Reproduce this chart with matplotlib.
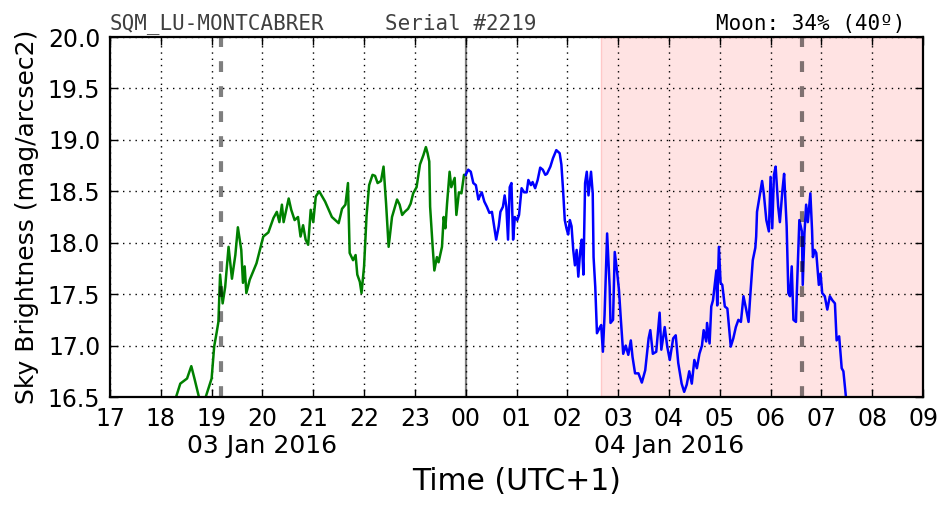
import matplotlib
matplotlib.use("Agg")
import matplotlib.pyplot as plt
import matplotlib.dates as mdates
import matplotlib.transforms as mtransforms
import pandas as pd

# ---- data (minutes after 2016-01-03 17:00, sky brightness mag/arcsec2) ----
start = pd.Timestamp("2016-01-03 17:00")

green_min = [74, 78, 83, 91, 96, 100, 105, 109, 113, 120, 123, 126, 128, 130, 133,
             136, 140, 144, 148, 151, 155, 157, 159, 161, 165, 169, 173, 177, 181,
             187, 193, 197, 200, 203, 205, 211, 214, 218, 222, 225, 228, 231, 234,
             237, 240, 243, 247, 254, 262, 266, 270, 274, 278, 281, 283, 287, 290,
             292, 295, 297, 300, 303, 306, 310, 313, 316, 320, 323, 326, 329, 333,
             339, 342, 345, 348, 352, 355, 358, 362, 366, 370, 373, 375, 377, 378,
             381, 383, 386, 388, 392, 394, 396, 398, 401, 403, 407, 409, 412, 415,
             418, 420]
green_val = [16.40, 16.50, 16.63, 16.68, 16.80, 16.67, 16.50, 16.40, 16.50, 16.68,
             16.99, 17.13, 17.23, 17.69, 17.41, 17.57, 17.96, 17.65, 17.88, 18.15,
             17.93, 17.61, 17.77, 17.51, 17.64, 17.72, 17.80, 17.93, 18.06, 18.10,
             18.24, 18.30, 18.20, 18.37, 18.20, 18.43, 18.32, 18.22, 18.25, 18.06,
             18.17, 18.03, 17.98, 18.32, 18.20, 18.45, 18.50, 18.40, 18.25, 18.22,
             18.19, 18.33, 18.37, 18.58, 17.90, 17.83, 17.88, 17.69, 17.62, 17.51,
             17.77, 18.27, 18.56, 18.66, 18.65, 18.58, 18.60, 18.74, 18.38, 17.96,
             18.25, 18.42, 18.37, 18.27, 18.30, 18.33, 18.38, 18.48, 18.54, 18.76,
             18.85, 18.93, 18.87, 18.79, 18.35, 17.96, 17.73, 17.86, 17.81, 17.96,
             18.25, 18.14, 18.38, 18.69, 18.54, 18.63, 18.27, 18.49, 18.48, 18.66,
             18.66]

blue_min = [420, 423, 426, 429, 432, 435, 437, 439, 442, 445, 448, 451, 453, 456,
            459, 461, 464, 466, 468, 470, 472, 474, 476, 478, 481, 483, 486, 489,
            492, 494, 497, 499, 502, 505, 508, 511, 514, 516, 520, 523, 527, 531,
            533, 535, 537, 539, 541, 543, 545, 547, 549, 551, 553, 555, 557, 559,
            561, 563, 565, 568, 570, 571, 573, 575, 578, 580, 582, 584, 587, 590,
            591, 594, 596, 599, 601, 603, 606, 609, 612, 615, 617, 620, 624, 628,
            632, 636, 638, 641, 645, 649, 651, 655, 658, 661, 665, 668, 671, 675,
            678, 681, 684, 687, 690, 693, 696, 699, 701, 704, 705, 708, 710, 712,
            716, 717, 719, 721, 723, 726, 729, 733, 736, 739, 742, 745, 748, 751,
            754, 756, 759, 762, 763, 764, 767, 770, 772, 775, 778, 780, 782, 784,
            786, 789, 791, 794, 796, 799, 801, 803, 805, 807, 810, 811, 814, 817,
            818, 820, 822, 824, 827, 829, 830, 832, 834, 837, 839, 841, 844, 847,
            850, 853, 856, 858, 861, 864, 866, 869, 871]
blue_val = [18.66, 18.71, 18.69, 18.58, 18.56, 18.42, 18.46, 18.49, 18.40, 18.35,
            18.29, 18.30, 18.19, 18.03, 18.16, 18.30, 18.35, 18.46, 18.35, 18.03,
            18.54, 18.58, 18.03, 18.25, 18.22, 18.27, 18.53, 18.49, 18.49, 18.61,
            18.56, 18.59, 18.53, 18.61, 18.73, 18.71, 18.66, 18.67, 18.74, 18.82,
            18.90, 18.87, 18.76, 18.51, 18.22, 18.14, 18.08, 18.22, 18.16, 17.93,
            17.78, 17.93, 17.67, 17.90, 18.03, 17.69, 18.58, 18.69, 18.46, 18.69,
            18.48, 17.86, 17.57, 17.12, 17.17, 17.20, 16.94, 17.30, 18.09, 17.57,
            17.22, 17.25, 17.91, 17.70, 17.54, 17.28, 16.92, 17.00, 16.91, 17.05,
            16.89, 16.73, 16.73, 16.64, 16.76, 17.07, 17.15, 16.92, 16.94, 17.32,
            16.96, 17.18, 16.99, 16.86, 17.07, 17.10, 16.83, 16.63, 16.55, 16.62,
            16.75, 16.63, 16.86, 16.78, 16.92, 17.00, 17.15, 17.04, 17.22, 17.02,
            17.38, 17.44, 17.73, 17.39, 17.96, 17.61, 17.59, 17.38, 17.36, 16.99,
            17.07, 17.18, 17.25, 17.23, 17.48, 17.36, 17.23, 17.48, 17.83, 17.95,
            18.06, 18.30, 18.45, 18.60, 18.48, 18.22, 18.11, 18.64, 18.14, 18.66,
            18.74, 18.35, 18.20, 18.51, 18.67, 18.16, 17.51, 17.48, 17.77, 17.25,
            17.23, 17.51, 18.22, 18.11, 17.59, 18.09, 18.37, 18.20, 18.48, 18.12,
            17.86, 17.93, 17.90, 17.59, 17.70, 17.51, 17.48, 17.35, 17.48, 17.44,
            17.41, 17.05, 17.09, 16.78, 16.75, 16.50, 16.35]

x_start = "2016-01-03 17:00"
x_end = "2016-01-04 09:00"
y_ticks = [16.5, 17.0, 17.5, 18.0, 18.5, 19.0, 19.5, 20.0]
twilight_lines = ["2016-01-03 19:11", "2016-01-04 06:37"]
midnight = "2016-01-04 00:00"
moon_span = ("2016-01-04 02:40", "2016-01-04 09:00")
date_labels = [("2016-01-03 20:00", "03 Jan 2016"), ("2016-01-04 04:00", "04 Jan 2016")]
title_left = "SQM_LU-MONTCABRER"
title_mid = "Serial #2219"
title_right = "Moon: 34% (40º)"

# ---- figure ----
fig = plt.figure(figsize=(9.52, 5.12), dpi=100)
fig.patch.set_facecolor("white")
ax = fig.add_axes([110 / 952, 1 - 397 / 512, 813 / 952, 360 / 512])

gt = [start + pd.Timedelta(minutes=m) for m in green_min]
bt = [start + pd.Timedelta(minutes=m) for m in blue_min]

ax.axvspan(pd.Timestamp(moon_span[0]), pd.Timestamp(moon_span[1]),
           facecolor="#ffe3e3", edgecolor="#ffc8c8", lw=1, zorder=0)
ax.axvline(pd.Timestamp(midnight), color="#808080", lw=1.6, zorder=1)
ax.plot(gt, green_val, color="#008000", lw=1.8, zorder=3)
ax.plot(bt, blue_val, color="#0000ff", lw=1.8, zorder=3)
for t in twilight_lines:
    ax.axvline(pd.Timestamp(t), color="black", alpha=0.5, lw=3.0,
               linestyle=(0, (2.6, 3.4)), zorder=4)

ax.set_xlim(pd.Timestamp(x_start), pd.Timestamp(x_end))
ax.set_ylim(16.5, 20.0)
ax.set_yticks(y_ticks)
ax.set_yticklabels([f"{v:.1f}" for v in y_ticks])
ax.xaxis.set_major_locator(mdates.HourLocator())
ax.xaxis.set_major_formatter(mdates.DateFormatter("%H"))

ax.grid(True, color="black", linestyle=(0, (1, 3.5)), lw=1.0, zorder=2)
ax.set_axisbelow(False)
for gl in ax.get_xgridlines() + ax.get_ygridlines():
    gl.set_zorder(2)
for s in ax.spines.values():
    s.set_linewidth(1.6)
    s.set_zorder(5)

ax.tick_params(axis="both", which="major", direction="in", length=6, width=1,
               top=True, right=True, labelsize=17, pad=7)

trans = mtransforms.blended_transform_factory(ax.transData, ax.transAxes)
for t, lab in date_labels:
    ax.text(pd.Timestamp(t), -0.136, lab, transform=trans, ha="center",
            va="center", fontsize=18)

ax.set_xlabel("Time (UTC+1)", fontsize=21.5)
ax.xaxis.label.set_va("center")
ax.xaxis.set_label_coords(0.5, -0.236)
ax.set_ylabel("Sky Brightness (mag/arcsec2)", fontsize=18)
ax.yaxis.label.set_va("center")
ax.yaxis.label.set_ha("center")
ax.yaxis.set_label_coords(-83 / 813, 0.5)

ax.text(0.0, 1.008, title_left, transform=ax.transAxes, ha="left", va="bottom",
        family="DejaVu Sans Mono", fontsize=15, color="#404040")
ax.text(275 / 813, 1.008, title_mid, transform=ax.transAxes, ha="left", va="bottom",
        family="DejaVu Sans Mono", fontsize=15, color="#404040")
ax.text(795 / 813, 1.008, title_right, transform=ax.transAxes, ha="right",
        va="bottom", family="DejaVu Sans Mono", fontsize=15, color="black")

fig.savefig("out.png", dpi=100, facecolor="white")
